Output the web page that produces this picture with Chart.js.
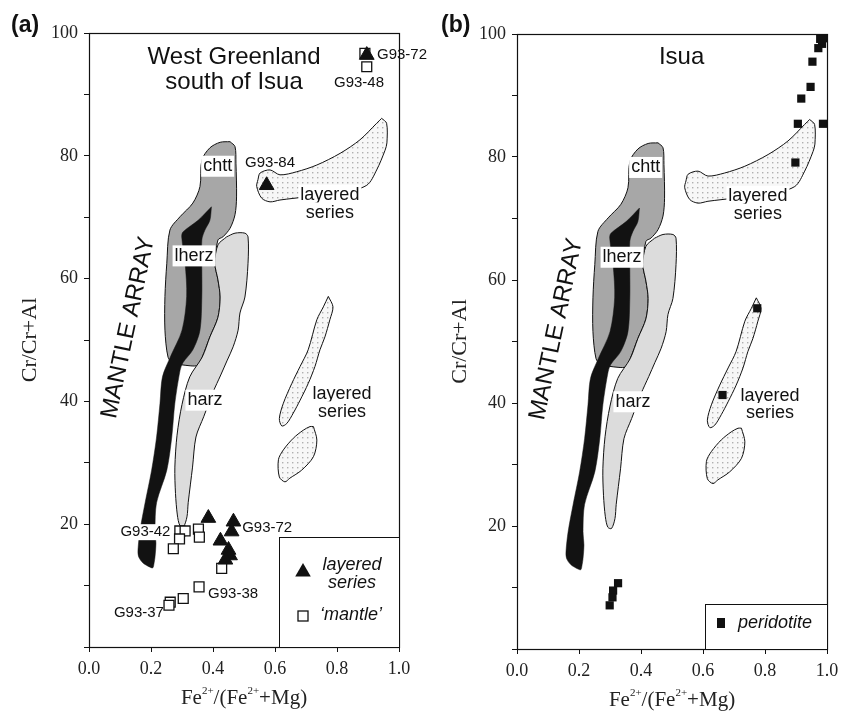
<!DOCTYPE html>
<html>
<head>
<meta charset="utf-8">
<title>Cr# vs Fe# spinel</title>
<script src="https://cdn.jsdelivr.net/npm/chart.js@4.4.1/dist/chart.umd.min.js"></script>
<style>
  body { margin: 0; background: #fff; }
  #wrap { position: relative; width: 851px; height: 712px; }
  #wrap canvas { position: absolute; top: 0; }
</style>
</head>
<body>
<div id="wrap">
  <canvas id="chartA" width="430" height="712" style="left:0px"></canvas>
  <canvas id="chartB" width="421" height="712" style="left:430px"></canvas>
</div>
<script>
/* ---------- axes ---------- */
const xTickStep = 0.2;
const yTickStep = 10;
const yTickLabels = [20, 40, 60, 80, 100];

/* ---------- reference fields, [Fe#, Cr#] ---------- */
const chttField = [
  [0.455, 82.3], [0.471, 81.5], [0.474, 78.8], [0.476, 73.3], [0.471, 70.4], [0.455, 68.2],
  [0.432, 66.8], [0.416, 66.3], [0.406, 62.5], [0.416, 59.8], [0.423, 57.0], [0.416, 53.7],
  [0.390, 50.5], [0.365, 47.2], [0.352, 45.9], [0.326, 45.8], [0.271, 46.3], [0.255, 47.2],
  [0.245, 51.6], [0.245, 57.1], [0.251, 62.5], [0.261, 67.9], [0.294, 70.1], [0.335, 72.3],
  [0.358, 75.0], [0.364, 79.3], [0.390, 81.3], [0.423, 82.2], [0.455, 82.3]
];
const harzField = [
  [0.444, 66.8], [0.471, 67.4], [0.503, 67.4], [0.513, 66.8], [0.513, 62.5], [0.503, 57.0],
  [0.487, 54.4], [0.481, 51.6], [0.465, 48.9], [0.445, 46.6], [0.425, 44.3], [0.400, 41.5],
  [0.370, 37.5], [0.345, 34.2], [0.334, 29.3], [0.320, 23.5], [0.316, 21.2], [0.305, 19.6],
  [0.293, 19.8], [0.285, 21.5], [0.279, 25.0], [0.277, 29.3], [0.284, 34.5], [0.300, 39.5],
  [0.325, 44.0], [0.365, 47.2], [0.390, 50.5], [0.416, 53.7], [0.423, 57.0], [0.416, 59.8],
  [0.406, 62.5], [0.416, 65.5], [0.444, 66.8]
];
const mantleArray = [
  [0.395, 71.7], [0.352, 69.5], [0.303, 67.6], [0.299, 66.8], [0.310, 62.5], [0.315, 57.1],
  [0.300, 51.6], [0.262, 47.2], [0.237, 44.0], [0.229, 39.7], [0.218, 34.2], [0.202, 28.8],
  [0.181, 23.5], [0.165, 19.1], [0.158, 15.8], [0.160, 14.7], [0.174, 13.7], [0.197, 13.0],
  [0.206, 12.9], [0.210, 13.7], [0.213, 14.7], [0.216, 16.9], [0.213, 19.1], [0.218, 23.5],
  [0.251, 28.8], [0.267, 34.2], [0.277, 39.7], [0.294, 45.1], [0.303, 46.3], [0.335, 48.4],
  [0.358, 51.6], [0.364, 57.1], [0.364, 61.4], [0.364, 66.3], [0.374, 67.9], [0.390, 69.5],
  [0.395, 71.7]
];
const layeredUpper = [
  [0.944, 86.1], [0.960, 85.3], [0.961, 82.1], [0.955, 80.9], [0.928, 77.7], [0.896, 75.2],
  [0.810, 73.9], [0.700, 73.3], [0.616, 72.8], [0.584, 72.5], [0.557, 73.1], [0.541, 75.0],
  [0.545, 76.1], [0.552, 77.2], [0.584, 77.7], [0.616, 76.9], [0.670, 77.4], [0.735, 78.5],
  [0.810, 80.4], [0.874, 82.6], [0.928, 85.3], [0.944, 86.1]
];
const layeredMid = [
  [0.772, 57.1], [0.787, 55.4], [0.777, 53.3], [0.761, 50.5], [0.745, 48.4], [0.729, 45.7],
  [0.707, 42.9], [0.681, 40.2], [0.659, 38.1], [0.638, 36.4], [0.622, 36.0], [0.614, 37.2],
  [0.627, 39.7], [0.654, 42.9], [0.681, 45.7], [0.707, 48.4], [0.735, 53.3], [0.756, 55.4],
  [0.772, 57.1]
];
const layeredLow = [
  [0.724, 35.9], [0.735, 33.7], [0.724, 31.0], [0.686, 28.8], [0.648, 27.5], [0.632, 26.9],
  [0.614, 27.7], [0.611, 30.5], [0.627, 32.1], [0.659, 34.0], [0.691, 35.3], [0.713, 35.9],
  [0.724, 35.9]
];

/* ---------- samples ---------- */
// (a) West Greenland south of Isua
const layeredSeriesA = [
  [0.896, 96.4], [0.573, 75.2], [0.385, 21.0], [0.466, 20.4], [0.460, 18.8],
  [0.424, 17.3], [0.450, 15.8], [0.455, 14.9], [0.440, 14.2]
];
const mantleA = [
  [0.890, 96.7], [0.896, 94.5], [0.293, 18.9], [0.310, 18.9], [0.292, 17.6],
  [0.353, 19.2], [0.356, 17.9], [0.272, 16.0], [0.428, 12.8], [0.355, 9.8],
  [0.304, 7.9], [0.262, 7.3], [0.258, 6.8]
];
// (b) Isua
const peridotiteB = [
  [0.978, 99.2], [0.990, 99.3], [0.984, 98.4], [0.972, 97.7], [0.953, 95.5],
  [0.947, 91.4], [0.917, 89.5], [0.906, 85.4], [0.987, 85.4], [0.898, 79.1],
  [0.775, 55.4], [0.663, 41.3], [0.326, 10.7], [0.310, 9.5], [0.308, 8.4], [0.299, 7.1]
];

/* ---------- helpers ---------- */
const SANS = "'Liberation Sans', Arial, sans-serif";
const SERIF = "'Liberation Serif', 'Times New Roman', serif";
const pts = arr => arr.map(p => ({ x: p[0], y: p[1] }));

function dotPattern() {
  const c = document.createElement("canvas");
  c.width = 5; c.height = 5;
  const g = c.getContext("2d");
  g.fillStyle = "#f7f7f7"; g.fillRect(0, 0, 5, 5);
  g.fillStyle = "#b0b0b0"; g.fillRect(2, 2, 1.4, 1.4);
  return g.createPattern(c, "repeat");
}

function field(data, fill, order, border) {
  return {
    data: pts(data), showLine: true, fill: "shape", backgroundColor: fill,
    borderColor: border || "#111", borderWidth: border ? 0.5 : 1,
    pointRadius: 0, tension: 0.3, order: order
  };
}

function fieldSets() {
  const dots = dotPattern();
  return [
    field(chttField, "#a7a7a7", 9),
    field(harzField, "#dcdcdc", 8),
    field(mantleArray, "#121212", 7, "#121212"),
    field(layeredUpper, dots, 6),
    field(layeredMid, dots, 6),
    field(layeredLow, dots, 6)
  ];
}

/* ---------- drawing plugin: labels, frame, legend, x title ---------- */
function drawLabel(chart, t) {
  const ctx = chart.ctx;
  const px = chart.scales.x.getPixelForValue(t.at[0]);
  const py = chart.scales.y.getPixelForValue(t.at[1]);
  ctx.save();
  ctx.translate(px, py);
  if (t.rot) ctx.rotate(t.rot * Math.PI / 180);
  ctx.font = t.font;
  ctx.textAlign = t.align || "center";
  ctx.textBaseline = "middle";
  if (t.box) {
    const w = ctx.measureText(t.text).width;
    const bh = t.box === "small" ? 16 : 21;
    const x0 = t.align === "left" ? -2 : -w / 2 - 2;
    ctx.fillStyle = "#fff";
    ctx.fillRect(x0, -bh / 2, w + 4, bh);
  }
  ctx.fillStyle = "#111";
  ctx.fillText(t.text, 0, 0);
  ctx.restore();
}

function drawTriangle(ctx, x, y, r) {
  ctx.beginPath();
  ctx.moveTo(x, y - r);
  ctx.lineTo(x + r * 0.866, y + r / 2);
  ctx.lineTo(x - r * 0.866, y + r / 2);
  ctx.closePath();
  ctx.fill();
}

function decor(panel) {
  return {
    id: "decor",
    afterDatasetsDraw(chart) {
      const ctx = chart.ctx, a = chart.chartArea;
      panel.texts.forEach(t => drawLabel(chart, t));

      // frame
      ctx.save();
      ctx.strokeStyle = "#111";
      ctx.lineWidth = 1.2;
      ctx.strokeRect(Math.round(a.left) + 0.5, Math.round(a.top) + 0.5,
        Math.round(a.right - a.left), Math.round(a.bottom - a.top));

      // legend box
      const L = panel.legend;
      ctx.fillStyle = "#fff";
      ctx.fillRect(a.right - L.w, a.bottom - L.h, L.w, L.h);
      ctx.lineWidth = 1;
      ctx.strokeRect(Math.round(a.right - L.w) + 0.5, Math.round(a.bottom - L.h) + 0.5, L.w, L.h);
      ctx.font = "italic 18px " + SANS;
      ctx.textBaseline = "middle";
      ctx.fillStyle = "#111";
      L.items.forEach(it => {
        const mx = a.right - it.mark[0], my = a.bottom - it.mark[1];
        if (it.kind === "triangle") {
          drawTriangle(ctx, mx, my + 2, 9);
        } else if (it.kind === "open") {
          ctx.fillStyle = "#fff";
          ctx.fillRect(mx - 5, my - 5, 10, 10);
          ctx.strokeStyle = "#111"; ctx.lineWidth = 1.3;
          ctx.strokeRect(mx - 5, my - 5, 10, 10);
        } else {
          ctx.fillRect(mx - 4, my - 5, 8, 10);
        }
        ctx.fillStyle = "#111";
        ctx.textAlign = it.align;
        it.lines.forEach((s, i) => ctx.fillText(s, a.right - it.text[0], a.bottom - it.text[1] + i * 18));
      });

      // panel letter
      ctx.font = "bold 23px " + SANS;
      ctx.textAlign = "left";
      ctx.fillText(panel.letter, 11, 26);

      // x axis title with superscripts
      const parts = [["Fe", 0], ["2+", 1], ["/(Fe", 0], ["2+", 1], ["+Mg)", 0]];
      const big = "21px " + SERIF, small = "11px " + SERIF;
      let w = 0;
      parts.forEach(p => { ctx.font = p[1] ? small : big; w += ctx.measureText(p[0]).width; });
      let x = (a.left + a.right) / 2 - w / 2;
      const base = a.bottom + 57;
      ctx.textBaseline = "alphabetic";
      ctx.fillStyle = "#222";
      parts.forEach(p => {
        ctx.font = p[1] ? small : big;
        ctx.fillText(p[0], x, p[1] ? base - 10 : base);
        x += ctx.measureText(p[0]).width;
      });
      ctx.restore();
    }
  };
}

/* ---------- chart builder ---------- */
function makeChart(id, box, pointSets, panel) {
  const tickFont = { family: SERIF, size: 18 };
  const grid = { drawOnChartArea: false, drawTicks: true, tickLength: 5, color: "#111", lineWidth: 1 };
  return new Chart(document.getElementById(id), {
    type: "scatter",
    data: { datasets: pointSets.concat(fieldSets()) },
    plugins: [decor(panel)],
    options: {
      responsive: false,
      animation: false,
      events: [],
      layout: { padding: { top: box.top, right: box.right, left: 0, bottom: 0 } },
      plugins: { legend: { display: false }, tooltip: { enabled: false } },
      scales: {
        x: {
          type: "linear", min: 0, max: 1,
          afterFit: s => { s.height = box.xh; },
          ticks: { stepSize: xTickStep, callback: v => v.toFixed(1), font: tickFont, color: "#222",
                   padding: 6, maxRotation: 0, autoSkip: false },
          grid: grid,
          border: { display: false }
        },
        y: {
          type: "linear", min: 0, max: 100,
          afterFit: s => { s.width = box.yw; },
          ticks: { stepSize: yTickStep, callback: v => yTickLabels.includes(v) ? String(v) : "",
                   font: tickFont, color: "#222", padding: 6, autoSkip: false },
          grid: grid,
          border: { display: false },
          title: { display: true, text: "Cr/Cr+Al", font: { family: SERIF, size: 22 }, color: "#222",
                   padding: { top: 17, bottom: 0 } }
        }
      }
    }
  });
}

/* ---------- shared field labels ---------- */
const fieldLabels = [
  { text: "chtt", at: [0.415, 78.3], font: "18px " + SANS, box: true },
  { text: "lherz", at: [0.339, 63.7], font: "18px " + SANS, box: true },
  { text: "harz", at: [0.374, 40.2], font: "18px " + SANS, box: true },
  { text: "layered", at: [0.777, 73.6], font: "18px " + SANS, box: true },
  { text: "series", at: [0.777, 70.7], font: "18px " + SANS, box: true },
  { text: "layered", at: [0.816, 41.2], font: "18px " + SANS, box: true },
  { text: "series", at: [0.816, 38.3], font: "18px " + SANS, box: true },
  { text: "MANTLE ARRAY", at: [0.127, 52.0], font: "24px " + SANS, rot: -78 }
];

/* ---------- panel (a) ---------- */
makeChart("chartA", { top: 33, right: 31, yw: 89, xh: 65 }, [
  { data: pts(layeredSeriesA), pointStyle: "triangle", pointRadius: 8.5, backgroundColor: "#111",
    borderColor: "#111", borderWidth: 1, order: 0, clip: false },
  { data: pts(mantleA), pointStyle: "rect", pointRadius: 7, backgroundColor: "#fff",
    borderColor: "#111", borderWidth: 1.3, order: 1, clip: false }
], {
  letter: "(a)",
  texts: fieldLabels.concat([
    { text: "West Greenland", at: [0.468, 96.1], font: "24px " + SANS },
    { text: "south of Isua", at: [0.468, 92.0], font: "24px " + SANS },
    { text: "G93-72", at: [0.929, 96.4], font: "15px " + SANS, align: "left" },
    { text: "G93-48", at: [0.871, 91.9], font: "15px " + SANS },
    { text: "G93-84", at: [0.584, 78.8], font: "15px " + SANS },
    { text: "G93-42", at: [0.182, 18.7], font: "15px " + SANS, box: "small" },
    { text: "G93-72", at: [0.494, 19.4], font: "15px " + SANS, align: "left" },
    { text: "G93-38", at: [0.384, 8.6], font: "15px " + SANS, align: "left" },
    { text: "G93-37", at: [0.161, 5.5], font: "15px " + SANS }
  ]),
  legend: {
    w: 120, h: 110,
    items: [
      { kind: "triangle", mark: [96, 77], lines: ["layered", "series"], text: [47, 82], align: "center" },
      { kind: "open", mark: [96, 31], lines: ["\u2018mantle\u2019"], text: [48, 32], align: "center" }
    ]
  }
});

/* ---------- panel (b) ---------- */
makeChart("chartB", { top: 34, right: 24, yw: 87, xh: 63 }, [
  { data: pts(peridotiteB), pointStyle: "rect", pointRadius: 5.8, backgroundColor: "#111",
    borderColor: "#111", borderWidth: 0, order: 0, clip: false }
], {
  letter: "(b)",
  texts: fieldLabels.concat([
    { text: "Isua", at: [0.531, 96.2], font: "24px " + SANS }
  ]),
  legend: {
    w: 122, h: 45,
    items: [
      { kind: "solid", mark: [106, 26], lines: ["peridotite"], text: [89, 26], align: "left" }
    ]
  }
});
</script>
</body>
</html>
